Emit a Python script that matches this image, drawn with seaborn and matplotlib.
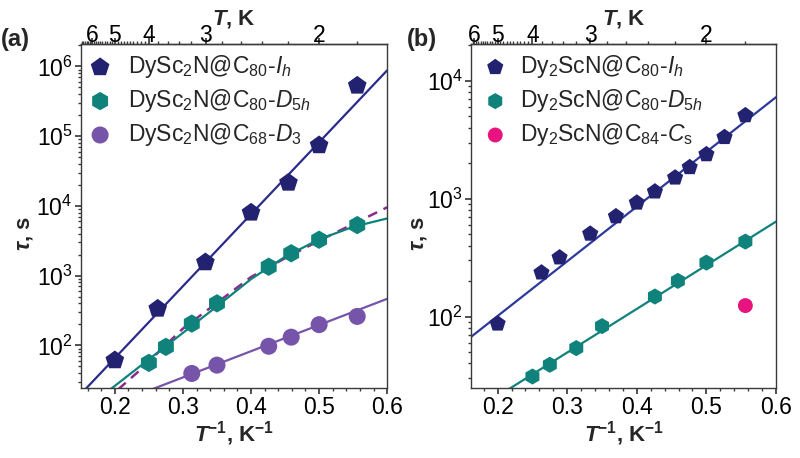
import numpy as np
import pandas as pd
import seaborn as sns
import matplotlib.pyplot as plt
from matplotlib.ticker import FixedLocator, NullFormatter, LogLocator

# ---- panel (a): DySc2N clusterfullerenes ----
a_x_ih = [0.2, 0.263, 0.333, 0.4, 0.455, 0.5, 0.556]
a_tau_ih = [61, 335, 1550, 8000, 21500, 74000, 530000]
a_x_d5h = [0.25, 0.275, 0.313, 0.35, 0.426, 0.459, 0.5, 0.556]
a_tau_d5h = [56, 95, 205, 400, 1340, 2090, 3270, 5300]
a_x_d3 = [0.313, 0.35, 0.426, 0.459, 0.5, 0.556]
a_tau_d3 = [39.5, 52, 97, 131, 198, 260]

# fitted curves
a_fit_ih_x = [0.15, 0.6]
a_fit_ih_tau = [20, 880000]
a_fit_d5h_x = [0.19, 0.25, 0.3, 0.35, 0.4, 0.45, 0.5, 0.55, 0.6]
a_fit_d5h_tau = [22, 63, 151, 363, 891, 1862, 3311, 5012, 6607]
a_fit_dash_x = [0.205, 0.24, 0.27, 0.3, 0.35, 0.4, 0.45, 0.5, 0.55, 0.6]
a_fit_dash_tau = [23.4, 46.8, 91.2, 174, 407, 955, 1778, 3162, 5495, 9550]
a_fit_d3_x = [0.25, 0.6]
a_fit_d3_tau = [22.5, 465]

# ---- panel (b): Dy2ScN clusterfullerenes ----
b_x_ih = [0.2, 0.263, 0.289, 0.333, 0.37, 0.4, 0.426, 0.455, 0.476, 0.5, 0.526, 0.556]
b_tau_ih = [87, 236, 317, 504, 708, 925, 1150, 1510, 1850, 2380, 3330, 5100]
b_x_d5h = [0.25, 0.275, 0.313, 0.35, 0.426, 0.459, 0.5, 0.556]
b_tau_d5h = [31, 39, 54, 83, 148, 201, 287, 433]
b_x_cs = [0.556]
b_tau_cs = [124]

b_fit_ih_x = [0.16, 0.6]
b_fit_ih_tau = [66, 7280]
b_fit_d5h_x = [0.21, 0.6]
b_fit_d5h_tau = [23, 640]

T_major = [6, 5, 4, 3, 2]

navy = "#222270"
navy_line = "#2b2b8c"
teal = "#0f837b"
purple = "#7654a9"
magenta = "#8c2a8c"
pink = "#e8137f"

sns.set_theme(style="ticks")
plt.rcParams["font.family"] = ["Liberation Sans", "DejaVu Sans"]
plt.rcParams.update({
    "mathtext.fontset": "custom",
    "mathtext.rm": "Liberation Sans",
    "mathtext.it": "Liberation Sans:italic",
    "mathtext.bf": "Liberation Sans:bold",
    "mathtext.bfit": "Liberation Sans:italic:bold",
    "axes.edgecolor": "#3a3a3a",
    "axes.linewidth": 1.0,
    "xtick.color": "#3a3a3a",
    "ytick.color": "#3a3a3a",
    "xtick.labelcolor": "black",
    "ytick.labelcolor": "black",
    "xtick.major.size": 4,
    "ytick.major.size": 4,
    "xtick.minor.size": 2.5,
    "ytick.minor.size": 2.5,
    "xtick.direction": "out",
    "ytick.direction": "out",
})


def inv(x):
    x = np.array(x, dtype=float)
    near = np.isclose(x, 0)
    x[near] = np.inf
    x[~near] = 1.0 / x[~near]
    return x


def style_axes(ax, ylim, xmin, label, label_x, ylab_x):
    ax.set_yscale("log")
    ax.set_xlim(xmin, 0.6)
    ax.set_ylim(*ylim)
    ax.set_xticks([0.2, 0.3, 0.4, 0.5, 0.6])
    ax.set_xticklabels(["0.2", "0.3", "0.4", "0.5", "0.6"])
    ax.xaxis.set_minor_locator(FixedLocator(np.arange(0.14, 0.61, 0.02)))
    ax.yaxis.set_major_locator(LogLocator(base=10, numticks=10))
    ax.yaxis.set_minor_locator(LogLocator(base=10, subs=np.arange(2, 10), numticks=20))
    ax.yaxis.set_minor_formatter(NullFormatter())
    ax.tick_params(axis="both", which="major", labelsize=16.5)
    ax.tick_params(axis="x", pad=2)
    ax.tick_params(axis="y", pad=2)
    for s in ax.spines.values():
        s.set_visible(True)
    ax.set_xlabel(r"$\mathbfit{T}^{\mathbf{-1}}$, K$^{\mathbf{-1}}$",
                  fontsize=16, fontweight="bold")
    ax.xaxis.set_label_coords(0.5, -0.132)
    ax.xaxis.label.set_va("center")
    ax.set_ylabel(r"$\mathbfit{\tau}$, s", fontsize=16, fontweight="bold")
    ax.yaxis.set_label_coords(ylab_x, 0.45)
    ax.yaxis.label.set_ha("center")
    ax.yaxis.label.set_va("center")

    sec = ax.secondary_xaxis("top", functions=(inv, inv))
    sec.set_xticks(T_major)
    sec.set_xticklabels([str(t) for t in T_major])
    minors = [t for t in np.round(np.arange(4.1, 6.95, 0.1), 1)] + \
             [t for t in np.round(np.arange(1.6, 4.0, 0.2), 1)]
    minors = [t for t in minors if t not in T_major]
    sec.xaxis.set_minor_locator(FixedLocator(minors))
    sec.tick_params(axis="x", which="major", labelsize=16.5, pad=-6)
    sec.set_xlabel(r"$\mathbfit{T}$, K", fontsize=16, fontweight="bold")
    sec.xaxis.set_label_coords(0.5, 1.072, transform=ax.transAxes)
    sec.xaxis.label.set_va("center")

    ax.text(label_x, 1.012, label, transform=ax.transAxes, fontsize=17,
            fontweight="bold", va="center", ha="left")


fig = plt.figure(figsize=(8, 4.58), dpi=100)
ax1 = fig.add_axes([0.101, 0.153, 0.383, 0.751])
ax2 = fig.add_axes([0.589, 0.153, 0.381, 0.751])

# panel (a)
sns.lineplot(x=a_fit_ih_x, y=a_fit_ih_tau, ax=ax1, color=navy_line, lw=1.6, sort=False, estimator=None)
sns.lineplot(x=a_fit_dash_x, y=a_fit_dash_tau, ax=ax1, color=magenta, lw=1.8, sort=False,
             estimator=None, linestyle=(0, (4, 2.8)))
sns.lineplot(x=a_fit_d5h_x, y=a_fit_d5h_tau, ax=ax1, color=teal, lw=1.6, sort=False, estimator=None)
sns.lineplot(x=a_fit_d3_x, y=a_fit_d3_tau, ax=ax1, color=purple, lw=1.6, sort=False, estimator=None)

sns.scatterplot(x=a_x_ih, y=a_tau_ih, ax=ax1, marker="p", s=200, color=navy, edgecolor="none",
                zorder=3, label=r"DySc$_2$N@C$_{80}$-$I_h$")
sns.scatterplot(x=a_x_d5h, y=a_tau_d5h, ax=ax1, marker="h", s=175, color=teal, edgecolor="none",
                zorder=3, label=r"DySc$_2$N@C$_{80}$-$D_{\mathit{5h}}$")
sns.scatterplot(x=a_x_d3, y=a_tau_d3, ax=ax1, marker="o", s=150, color=purple, edgecolor="none",
                zorder=3, label=r"DySc$_2$N@C$_{68}$-$D_3$")

# panel (b)
sns.lineplot(x=b_fit_ih_x, y=b_fit_ih_tau, ax=ax2, color="#2d3a9c", lw=1.6, sort=False, estimator=None)
sns.lineplot(x=b_fit_d5h_x, y=b_fit_d5h_tau, ax=ax2, color=teal, lw=1.6, sort=False, estimator=None)

sns.scatterplot(x=b_x_ih, y=b_tau_ih, ax=ax2, marker="p", s=150, color=navy, edgecolor="none",
                zorder=3, label=r"Dy$_2$ScN@C$_{80}$-$I_h$")
sns.scatterplot(x=b_x_d5h, y=b_tau_d5h, ax=ax2, marker="h", s=135, color=teal, edgecolor="none",
                zorder=3, label=r"Dy$_2$ScN@C$_{80}$-$D_{\mathit{5h}}$")
sns.scatterplot(x=b_x_cs, y=b_tau_cs, ax=ax2, marker="o", s=115, color=pink, edgecolor="none",
                zorder=3, label=r"Dy$_2$ScN@C$_{84}$-$C_\mathrm{s}$")

style_axes(ax1, (24.5, 2.1e6), 0.15, "(a)", -0.262, -0.183)
style_axes(ax2, (24.8, 2.06e4), 0.162, "(b)", -0.21, -0.174)

ax1.legend(loc="upper left", bbox_to_anchor=(-0.008, 0.973), frameon=False, fontsize=16.5,
           handletextpad=0.25, borderaxespad=0, labelspacing=0.3, borderpad=0, handlelength=1.9)
ax2.legend(loc="upper left", bbox_to_anchor=(0.018, 0.973), frameon=False, fontsize=16.5,
           handletextpad=0.25, borderaxespad=0, labelspacing=0.3, borderpad=0, handlelength=1.62)

fig.savefig("out.png", dpi=100)
